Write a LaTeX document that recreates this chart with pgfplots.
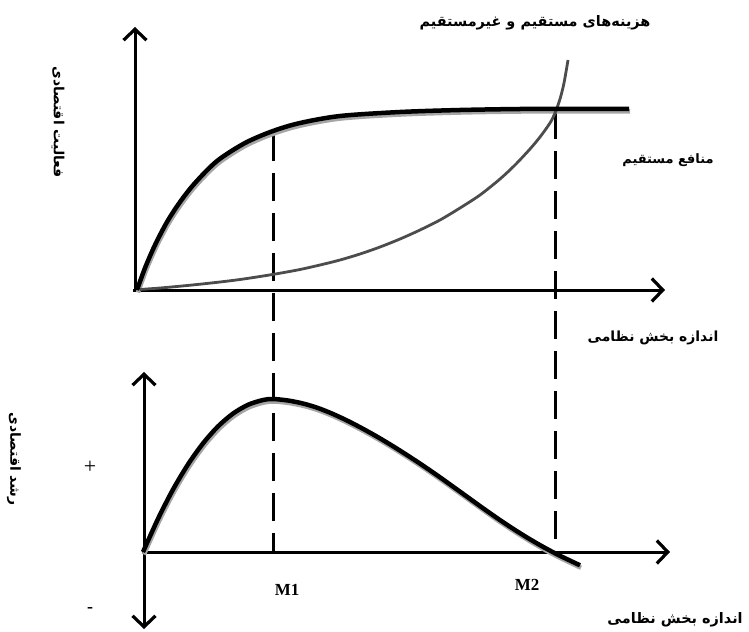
\documentclass[border=0pt]{standalone}
\usepackage{pgfplots}
\pgfplotsset{compat=1.18}
\usepackage{pgfplotstable}
\usepackage{fontspec}
\setmainfont{Liberation Serif}
\newfontfamily\fa[Script=Arabic]{DejaVu Sans}
\TeXXeTstate=1
\usetikzlibrary{arrows.meta}

\pgfplotstableread{
x y
137 290
145 268
155 245
167 222
180 202
195 183
217 161
245 143
273 131
300 123
340 116
400 112
460 110
520 109
560 109
629 109
}\benefit

\pgfplotstableread{
x y
140 289.5
160 288
180 286.2
200 284.2
220 282
240 279.5
260 276.5
280 273.2
300 269.5
320 265
340 260
360 254
380 247
400 239
420 230
440 220
460 208
480 195
500 179
515 165
530 149
540 137
550 123
555 113
560 99
564 83
568 60
}\cost

\pgfplotstableread{
x y
143 552
158 518.8
173 489.5
188 464.4
203 443.4
218 426.4
233 413.6
248 404.8
263 400
273 399
288 400.5
303 403.5
318 408
333 414
348 421
363 428.8
378 437.2
393 446.2
408 455.7
423 465.6
438 475.9
453 486.6
468 497.4
483 508.2
498 518.7
513 528.7
528 538.1
543 546.8
558 554.8
573 562
580 565.3
}\growth

\begin{document}
\begin{tikzpicture}
\begin{axis}[width=749bp,height=632bp,scale only axis,
  xmin=0,xmax=749,ymin=0,ymax=632,y dir=reverse,
  hide axis,clip=false]
\coordinate (BBa) at (axis cs:0,632);
\coordinate (BBb) at (axis cs:749,0);
% axes
\addplot[line width=3bp,-{Straight Barb[length=11bp,width=23bp,line width=3.2bp]}] coordinates {(135,291) (135,27)};
\addplot[line width=3bp,-{Straight Barb[length=11bp,width=23bp,line width=3.2bp]}] coordinates {(133,290) (665,290)};
\addplot[line width=3bp,-{Straight Barb[length=11bp,width=23bp,line width=3.2bp]}] coordinates {(144,553) (144,372)};
\addplot[line width=3bp,-{Straight Barb[length=11bp,width=23bp,line width=3.2bp]}] coordinates {(144,551) (144,629)};
\addplot[line width=3bp,-{Straight Barb[length=11bp,width=23bp,line width=3.2bp]}] coordinates {(142,552) (670,552)};
% dashed lines
\addplot[line width=3bp,dash pattern=on 28bp off 12bp] coordinates {(273,133) (273,552)};
\addplot[line width=3bp,dash pattern=on 28bp off 12bp] coordinates {(555,111) (555,552)};
% shadows
\addplot[gray!70,line width=4.5bp,smooth,xshift=1bp,yshift=-2.5bp] table {\benefit};
\addplot[gray!70,line width=4.5bp,smooth,xshift=1bp,yshift=-2.5bp] table {\growth};
% curves
\addplot[black!70,line width=2.8bp,smooth] table {\cost};
\addplot[black,line width=4.5bp,smooth] table {\benefit};
\addplot[black,line width=4.5bp,smooth] table {\growth};
% texts
\node[font=\fa\bfseries\fontsize{14.5}{16}\selectfont] at (axis cs:535,23) {\beginR هزینه‌های مستقیم و غیرمستقیم\endR};
\node[font=\fa\bfseries\fontsize{13}{15}\selectfont] at (axis cs:668,160) {\beginR منافع مستقیم\endR};
\node[font=\fa\bfseries\fontsize{14}{16}\selectfont] at (axis cs:653,338) {\beginR اندازه بخش نظامی\endR};
\node[font=\fa\bfseries\fontsize{14.5}{16}\selectfont] at (axis cs:675,620) {\beginR اندازه بخش نظامی\endR};
\node[font=\fa\bfseries\fontsize{14}{16}\selectfont,rotate=-90] at (axis cs:58,122) {\beginR فعالیت اقتصادی\endR};
\node[font=\fa\bfseries\fontsize{14}{16}\selectfont,rotate=-90] at (axis cs:14,459) {\beginR رشد اقتصادی\endR};
\node[font=\bfseries\fontsize{17}{19}\selectfont] at (axis cs:287,590) {M1};
\node[font=\bfseries\fontsize{17}{19}\selectfont] at (axis cs:527,585) {M2};
\node[font=\fontsize{22}{24}\selectfont] at (axis cs:90,467) {+};
\node[font=\bfseries\fontsize{18}{20}\selectfont] at (axis cs:90,610) {-};
\end{axis}
\pgfresetboundingbox
\path[use as bounding box] (BBa) rectangle (BBb);
\end{tikzpicture}
\end{document}
